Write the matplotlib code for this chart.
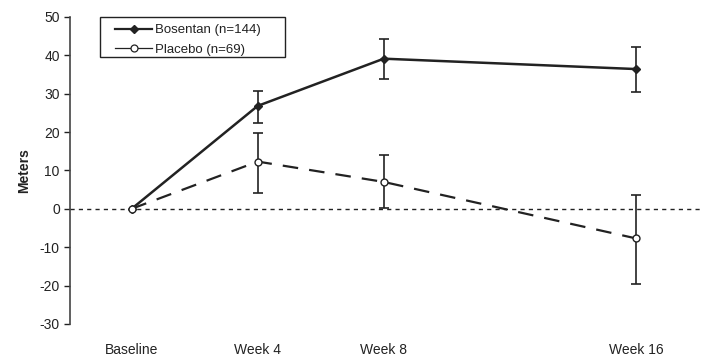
import matplotlib.pyplot as plt
from matplotlib.lines import Line2D
from matplotlib.patches import Rectangle

plt.rcParams['font.family'] = ['Liberation Sans', 'DejaVu Sans']
plt.rcParams['axes.unicode_minus'] = False

weeks = [0, 4, 8, 16]
tick_labels = ["Baseline", "Week 4", "Week 8", "Week 16"]

bosentan = [0, 26.8, 39.1, 36.4]
bosentan_low = [0, 22.3, 33.9, 30.5]
bosentan_high = [0, 30.8, 44.3, 42.2]

placebo = [0, 12.3, 7.0, -7.7]
placebo_low = [0, 4.2, 0.3, -19.5]
placebo_high = [0, 19.7, 14.1, 3.6]

fig = plt.figure(figsize = (7.02, 3.58), dpi = 100)
ax = fig.add_axes([0.1, 0.095, 0.9, 0.858])

ink = "#222222"

ax.axhline(0, color = ink, linestyle = (0, (3, 3)), linewidth = 1.0, zorder = 1)

b_err = [[b - l for b, l in zip(bosentan, bosentan_low)], [h - b for b, h in zip(bosentan, bosentan_high)]]
p_err = [[p - l for p, l in zip(placebo, placebo_low)], [h - p for p, h in zip(placebo, placebo_high)]]

ax.errorbar(weeks[1:], bosentan[1:], yerr = [b_err[0][1:], b_err[1][1:]], fmt = "none",
            ecolor = ink, elinewidth = 1.2, capsize = 3.5, capthick = 1.2, zorder = 2)
ax.errorbar(weeks[1:], placebo[1:], yerr = [p_err[0][1:], p_err[1][1:]], fmt = "none",
            ecolor = ink, elinewidth = 1.2, capsize = 3.5, capthick = 1.2, zorder = 2)

ax.plot(weeks, bosentan, color = ink, linewidth = 1.8, marker = "D", markersize = 4,
        markerfacecolor = ink, markeredgecolor = ink, zorder = 3)
ax.plot(weeks, placebo, color = ink, linewidth = 1.6, linestyle = (0, (7, 5)), marker = "o",
        markersize = 5, markerfacecolor = "white", markeredgecolor = ink, markeredgewidth = 1.0,
        zorder = 3)

ax.set_xlim(-1.95, 18.1)
ax.set_ylim(-30, 50)
ax.set_yticks(range(-30, 51, 10))
ax.set_xticks(weeks)
ax.set_xticklabels(tick_labels)
ax.tick_params(axis = "x", length = 0, pad = 14, labelsize = 10, colors = ink)
ax.tick_params(axis = "y", direction = "out", length = 4, width = 1.0, labelsize = 10, colors = ink)

for side in ["top", "right", "bottom"]:
    ax.spines[side].set_visible(False)
ax.spines["left"].set_color("#444444")
ax.spines["left"].set_linewidth(1.2)

ax.set_ylabel("Meters", fontsize = 10, fontweight = "bold", labelpad = 6, color = ink)

# legend box drawn by hand so it can be wider than the text
ax.add_patch(Rectangle((0.047, 0.870), 0.293, 0.130, transform = ax.transAxes, fill = False,
                       edgecolor = ink, linewidth = 1.0, clip_on = False, zorder = 4))
handles = [
    Line2D([], [], color = ink, linewidth = 1.6, marker = "D", markersize = 4,
           markerfacecolor = ink, markeredgecolor = ink),
    Line2D([], [], color = ink, linewidth = 0.9, marker = "o", markersize = 5,
           markerfacecolor = "white", markeredgecolor = ink, markeredgewidth = 0.9),
]
leg = ax.legend(handles, ["Bosentan (n=144)", "Placebo (n=69)"], loc = "upper left",
                bbox_to_anchor = (0.071, 0.976), fontsize = 9.5, frameon = False,
                handlelength = 2.8, borderpad = 0.0, labelspacing = 0.56,
                handletextpad = 0.2, borderaxespad = 0.0)
for t in leg.get_texts():
    t.set_color(ink)

fig.savefig("out.png", dpi = 100)
